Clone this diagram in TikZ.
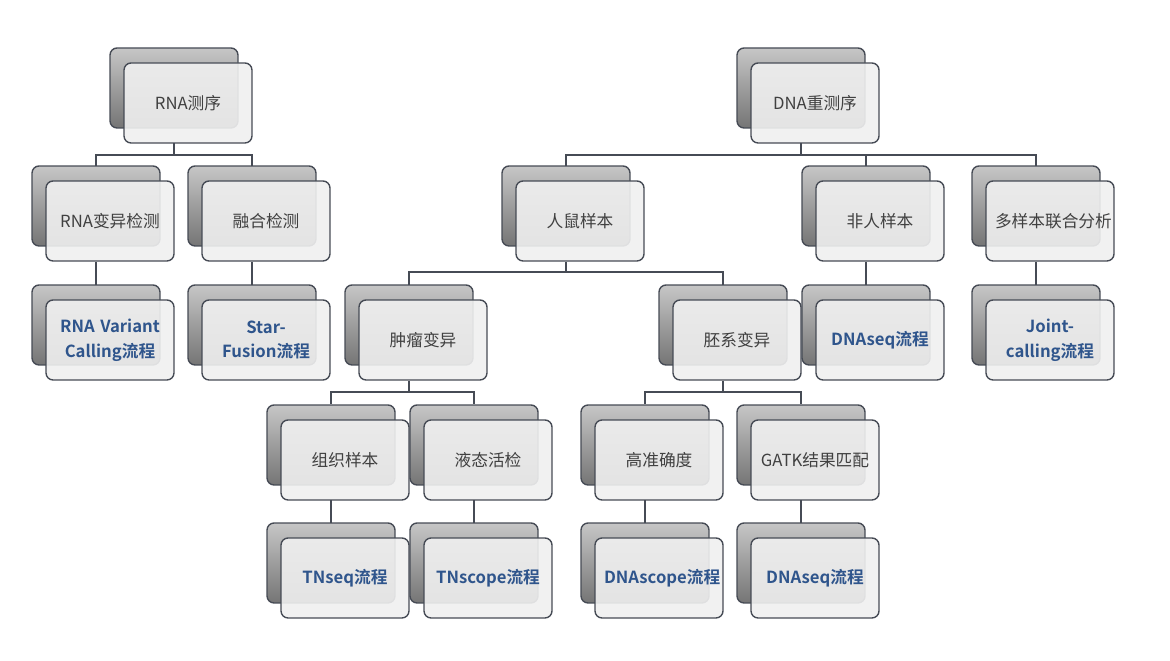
\documentclass[tikz,border=0pt]{standalone}
\usepackage{fontspec}
\setmainfont{Noto Sans CJK SC}[BoldFont={Noto Sans CJK SC Bold}]
\usetikzlibrary{positioning}
\definecolor{leafblue}{RGB}{47,85,140}
\definecolor{edgegray}{RGB}{70,75,85}

% one stacked box: back card plus front card
\newcommand{\tbox}[5]{%
  \node[back node] (#1B) at (#2-14,#3-15) {};
  \node[front node,#5] (#1) at (#2,#3) {#4};}

\begin{document}
\begin{tikzpicture}[x=0.02cm,y=-0.02cm,
	back node/.style={rectangle,rounded corners=4pt,draw=edgegray,thick,
		top color=gray!45,bottom color=gray!80!black!90,
		minimum width=2.56cm,minimum height=1.6cm},
	front node/.style={rectangle,rounded corners=4pt,draw=edgegray,thick,
		fill=gray!12,fill opacity=0.9,text opacity=1,
		minimum width=2.56cm,minimum height=1.6cm,
		text width=2.2cm,align=center,font=\fontsize{9.5}{14}\selectfont,text=black!75},
	leaf/.style={font=\fontsize{9.5}{14}\selectfont\bfseries,text=leafblue},
	link/.style={draw=edgegray,thick}]
	\useasboundingbox (0,0) rectangle (1170,661);
	
	% links first
	\coordinate (rnaL) at (174,143);
	\coordinate (dnaL) at (801,143);
	\coordinate (hmL) at (566,262);
	\coordinate (tuL) at (409,381);
	\coordinate (geL) at (723,381);
	\draw[link] (rnaL) -- (174,155) -| (96,166) (174,155) -| (252,166);
	\draw[link] (dnaL) -- (801,155) -| (566,166) (801,155) -| (866,166)
		(801,155) -| (1036,166);
	\draw[link] (hmL) -- (566,272) -| (409,285) (566,272) -| (723,285);
	\draw[link] (tuL) -- (409,392) -| (331,404) (409,392) -| (474,404);
	\draw[link] (geL) -- (723,392) -| (645,404) (723,392) -| (801,404);
	\foreach \x in {96,252,866,1036} \draw[link] (\x,262) -- (\x,285);
	\foreach \x in {331,474,645,801} \draw[link] (\x,500) -- (\x,523);
	
	\tbox{rna}{188}{103}{RNA测序}{}
	\tbox{dna}{815}{103}{DNA重测序}{}
	\tbox{rvar}{110}{221}{RNA变异检测}{}
	\tbox{fus}{266}{221}{融合检测}{}
	\tbox{hm}{580}{221}{人鼠样本}{}
	\tbox{nh}{880}{221}{非人样本}{}
	\tbox{ms}{1050}{221}{多样本联合分析}{}
	\tbox{rvc}{110}{340}{RNA Variant Calling流程}{leaf}
	\tbox{sf}{266}{340}{Star-Fusion流程}{leaf}
	\tbox{tu}{423}{340}{肿瘤变异}{}
	\tbox{ge}{737}{340}{胚系变异}{}
	\tbox{dsa}{880}{340}{DNAseq流程}{leaf}
	\tbox{jc}{1050}{340}{Joint-calling流程}{leaf}
	\tbox{ts}{345}{460}{组织样本}{}
	\tbox{lb}{488}{460}{液态活检}{}
	\tbox{ha}{659}{460}{高准确度}{}
	\tbox{gk}{815}{460}{GATK结果匹配}{}
	\tbox{tn}{345}{578}{TNseq流程}{leaf}
	\tbox{tsc}{488}{578}{TNscope流程}{leaf}
	\tbox{dsc}{659}{578}{DNAscope流程}{leaf}
	\tbox{dsb}{815}{578}{DNAseq流程}{leaf}
\end{tikzpicture}
\end{document}
